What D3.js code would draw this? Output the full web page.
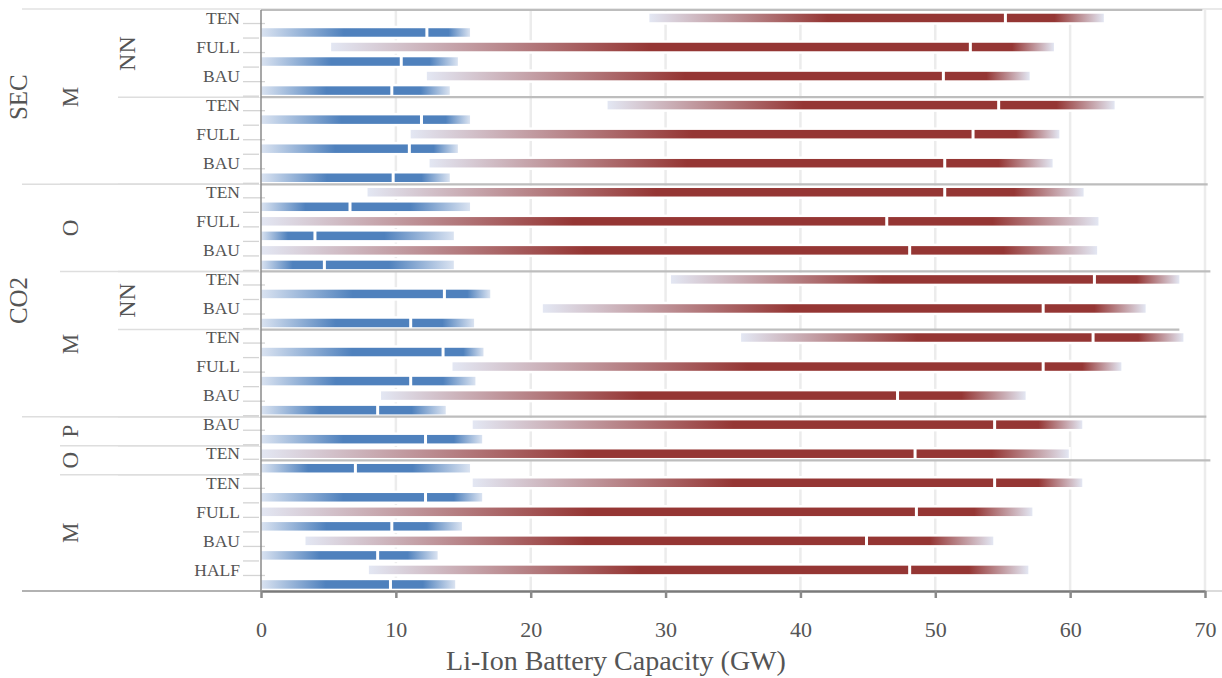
<!DOCTYPE html>
<html>
<head>
<meta charset="utf-8">
<script src="https://cdn.jsdelivr.net/npm/d3@7"></script>
<style>
  body { margin: 0; background: #fff; }
  svg { display: block; font-family: "Liberation Serif", "DejaVu Serif", serif; }
</style>
</head>
<body>
<div id="chart"></div>
<script>
// row headers, top to bottom
const level1 = ["SEC","SEC","SEC","SEC","SEC","SEC","CO2","CO2","CO2","CO2","CO2","CO2","CO2","CO2","","","","","",""];
const level2 = ["M","M","M","M","M","M","O","O","O","M","M","M","M","M","P","O","M","M","M","M"];
const level3 = ["NN","NN","NN","","","","","","","NN","NN","","","","","","","","",""];
const scenarios = ["TEN","FULL","BAU","TEN","FULL","BAU","TEN","FULL","BAU","TEN","BAU","TEN","FULL","BAU","BAU","TEN","TEN","FULL","BAU","HALF"];

// red band: low end, marked value, high end (GW)
const redLow  = [28.8, 5.2, 12.3, 25.7, 11.1, 12.5, 7.9, 0, 0, 30.4, 20.9, 35.6, 14.2, 8.9, 15.7, 0, 15.7, 0, 3.3, 8.0];
const redMid  = [55.2, 52.6, 50.6, 54.7, 52.8, 50.7, 50.7, 46.4, 48.1, 61.8, 58.0, 61.7, 58.0, 47.2, 54.4, 48.5, 54.4, 48.6, 44.9, 48.1];
const redHigh = [62.5, 58.8, 57.0, 63.3, 59.2, 58.7, 61.0, 62.1, 62.0, 68.1, 65.6, 68.4, 63.8, 56.7, 60.9, 59.9, 60.9, 57.2, 54.3, 56.9];

// blue band
const blueLow  = [0, 0, 0, 0, 0, 0, 0, 0, 0, 0, 0, 0, 0, 0, 0, 0, 0, 0, 0, 0];
const blueMid  = [12.3, 10.4, 9.7, 11.9, 11.0, 9.8, 6.6, 4.0, 4.7, 13.6, 11.1, 13.5, 11.1, 8.65, 12.2, 7.0, 12.2, 9.7, 8.65, 9.6];
const blueHigh = [15.5, 14.6, 14.0, 15.5, 14.6, 14.0, 15.5, 14.3, 14.3, 17.0, 15.8, 16.5, 15.9, 13.7, 16.4, 15.5, 16.4, 14.9, 13.1, 14.4];

// grey reference lines: row position and end value
const refRow = [0, 3, 6, 9, 11, 14, 15.5];
const refEnd = [69.8, 69.9, 70.2, 70.4, 68.1, 70.1, 70.4];

const xTicks = [0, 10, 20, 30, 40, 50, 60, 70];

const W = 1222, H = 678;
const plotL = 261, plotR = 1205, plotT = 10, plotB = 591;
const RED = "#953634", BLUE = "#4f81bd", FADE_R = "#e3e7f3", FADE_B = "#dae3f1";
const TXT = "#555";

const svg = d3.select("#chart").append("svg").attr("width", W).attr("height", H);
const defs = svg.append("defs");

const x = d3.scaleLinear().domain([0, 70]).range([plotL, plotR]);
const y = d3.scaleBand().domain(d3.range(scenarios.length)).range([plotT, plotB]);
const bw = y.bandwidth();
const barH = 8.5;
const redY = i => y(i) + bw * 0.25 + 0.7;
const blueY = i => y(i) + bw * 0.75 + 0.7;
const rowY = r => plotT + r * bw;

// gridlines
svg.append("g").selectAll("line").data(xTicks.slice(1)).join("line")
  .attr("x1", d => x(d)).attr("x2", d => x(d))
  .attr("y1", plotT).attr("y2", plotB)
  .attr("stroke", "#ececec").attr("stroke-width", 2.5);

// header separators
function runs(keyFn) {
  const out = [];
  scenarios.forEach((_, i) => {
    const k = keyFn(i);
    if (out.length && out[out.length - 1].key === k) out[out.length - 1].end = i + 1;
    else out.push({ key: k, start: i, end: i + 1 });
  });
  return out;
}
const r1 = runs(i => level1[i]);
const r2 = runs(i => level1[i] + "|" + level2[i]);
const r3 = runs(i => level1[i] + "|" + level2[i] + "|" + level3[i]);

const hdr = svg.append("g");
hdr.append("line").attr("x1", 22).attr("x2", W).attr("y1", plotT - 1).attr("y2", plotT - 1)
  .attr("stroke", "#e2e2e2").attr("stroke-width", 1.5);
[[r1, 22], [r2, 60], [r3, 118]].forEach(([rr, x0]) => {
  hdr.selectAll(null).data(rr.slice(1)).join("line")
    .attr("x1", x0).attr("x2", plotL)
    .attr("y1", d => rowY(d.start)).attr("y2", d => rowY(d.start))
    .attr("stroke", "#dedede").attr("stroke-width", 1.5);
});

// little row ticks next to the plot
hdr.selectAll(null).data(d3.range(1, scenarios.length * 2)).join("line")
  .attr("x1", 243).attr("x2", plotL + 4)
  .attr("y1", k => plotT + k * bw / 2 - 1).attr("y2", k => plotT + k * bw / 2 - 1)
  .attr("stroke", "#d4d4d4").attr("stroke-width", 1.3);

// header labels
function rotLabels(rr, lab, cx, fs) {
  hdr.selectAll(null).data(rr.filter(d => lab(d.start) !== "")).join("text")
    .attr("transform", d => `translate(${cx},${(rowY(d.start) + rowY(d.end)) / 2}) rotate(-90)`)
    .attr("text-anchor", "middle").attr("dy", "0.34em")
    .attr("font-size", fs).attr("fill", TXT)
    .text(d => lab(d.start));
}
rotLabels(r1, i => level1[i], 18, 25);
rotLabels(r2, i => level2[i], 70, 23);
rotLabels(r3, i => level3[i], 127, 24);

hdr.selectAll(null).data(scenarios).join("text")
  .attr("x", 240).attr("y", (d, i) => redY(i))
  .attr("dy", "0.33em").attr("text-anchor", "end")
  .attr("font-size", 17.5).attr("fill", TXT)
  .text(d => d);

// bands
function band(low, mid, high, cy, col, fade, name) {
  const g = svg.append("g");
  low.forEach((lo, i) => {
    const hi = high[i], m = mid[i];
    const span = hi - lo;
    const grad = defs.append("linearGradient").attr("id", `${name}${i}`)
      .attr("gradientUnits", "userSpaceOnUse")
      .attr("x1", x(lo)).attr("x2", x(hi)).attr("y1", 0).attr("y2", 0);
    grad.append("stop").attr("offset", 0).attr("stop-color", fade);
    grad.append("stop").attr("offset", ((m - lo) / 2) / span).attr("stop-color", col);
    grad.append("stop").attr("offset", ((m + hi) / 2 - lo) / span).attr("stop-color", col);
    grad.append("stop").attr("offset", 1).attr("stop-color", fade);

    const c = cy(i);
    g.append("rect").attr("x", x(lo) - 2).attr("width", x(hi) - x(lo) + 4)
      .attr("y", c - barH / 2 - 2.5).attr("height", barH + 5).attr("fill", "#fff");
    g.append("rect").attr("x", x(lo)).attr("width", x(hi) - x(lo))
      .attr("y", c - barH / 2).attr("height", barH).attr("fill", `url(#${name}${i})`);
    g.append("rect").attr("x", x(m) - 1.5).attr("width", 3)
      .attr("y", c - barH / 2 - 1).attr("height", barH + 2).attr("fill", "#fff");
  });
}
band(redLow, redMid, redHigh, redY, RED, FADE_R, "gr");
band(blueLow, blueMid, blueHigh, blueY, BLUE, FADE_B, "gb");

// grey reference lines
svg.append("g").selectAll("line").data(refRow).join("line")
  .attr("x1", plotL).attr("x2", (d, i) => x(refEnd[i]))
  .attr("y1", d => rowY(d)).attr("y2", d => rowY(d))
  .attr("stroke", "#bdbdbd").attr("stroke-width", 2.2);

// bottom line across header, and past the plot
svg.append("line").attr("x1", 22).attr("x2", plotL).attr("y1", plotB).attr("y2", plotB)
  .attr("stroke", "#999").attr("stroke-width", 1.5);
svg.append("line").attr("x1", plotR).attr("x2", W).attr("y1", plotB).attr("y2", plotB)
  .attr("stroke", "#cfcfcf").attr("stroke-width", 1.5);
svg.append("line").attr("x1", plotL).attr("x2", plotL).attr("y1", plotT).attr("y2", plotB)
  .attr("stroke", "#8a8a8a").attr("stroke-width", 1.5);

// x axis
const ax = svg.append("g").attr("transform", `translate(0,${plotB})`)
  .call(d3.axisBottom(x).tickValues(xTicks).tickSize(7).tickPadding(23).tickSizeOuter(0));
ax.select(".domain").attr("stroke", "#7a7a7a").attr("stroke-width", 2.5);
ax.selectAll(".tick line").attr("stroke", "#8a8a8a").attr("stroke-width", 2.5);
ax.selectAll(".tick text").attr("fill", TXT).attr("font-size", 22)
  .attr("font-family", "Liberation Serif, serif");

svg.append("text").attr("x", 616).attr("y", 670).attr("text-anchor", "middle")
  .attr("font-size", 28).attr("fill", TXT)
  .text("Li-Ion Battery Capacity (GW)");
</script>
</body>
</html>
